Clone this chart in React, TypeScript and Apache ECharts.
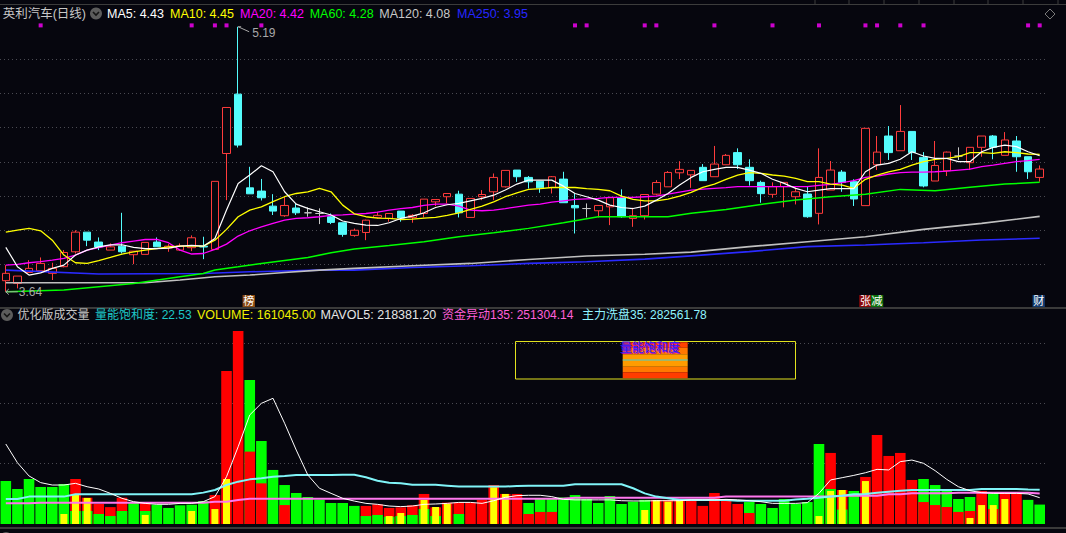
import React, { useEffect, useRef } from "react";
import * as echarts from "echarts";

const BG = "#06060e";
const RED = "#ff0000";
const GREEN = "#00ff00";
const YELLOW = "#ffff00";
const FONT = '"Liberation Sans", "Noto Sans CJK SC", sans-serif';

const days: string[] = Array.from({ length: 90 }, (_, i) => `D${i + 1}`);

// [open, close, low, high]
const ohlc: number[][] = [
  [3.705, 3.748, 3.64, 3.796], [3.689, 3.732, 3.66, 3.732], [3.753, 3.777, 3.753, 3.825], [3.763, 3.806, 3.763, 3.841], [3.748, 3.777, 3.709, 3.81],
  [3.787, 3.87, 3.783, 3.884], [3.874, 3.989, 3.864, 4.0], [3.989, 3.942, 3.907, 3.989], [3.931, 3.902, 3.884, 3.958], [3.884, 3.903, 3.884, 3.923],
  [3.907, 3.874, 3.864, 4.102], [3.857, 3.878, 3.802, 3.878], [3.859, 3.929, 3.859, 3.929], [3.931, 3.903, 3.903, 3.958], [3.896, 3.907, 3.874, 3.919],
  [3.884, 3.909, 3.88, 3.923], [3.898, 3.956, 3.878, 3.97], [3.907, 3.902, 3.831, 3.962], [3.888, 4.286, 3.884, 4.286], [4.449, 4.718, 4.176, 4.718],
  [4.796, 4.498, 4.484, 5.19], [4.248, 4.213, 4.213, 4.371], [4.229, 4.19, 4.174, 4.3], [4.141, 4.112, 4.089, 4.211], [4.085, 4.145, 4.079, 4.196],
  [4.13, 4.102, 4.089, 4.157], [4.102, 4.102, 4.079, 4.133], [4.098, 4.098, 4.036, 4.128], [4.079, 4.046, 4.036, 4.098], [4.044, 3.976, 3.962, 4.044],
  [3.97, 4.0, 3.962, 4.01], [3.987, 4.059, 3.942, 4.062], [4.075, 4.087, 4.069, 4.108], [4.069, 4.098, 4.05, 4.098], [4.112, 4.071, 4.05, 4.112],
  [4.075, 4.087, 4.044, 4.094], [4.098, 4.182, 4.075, 4.182], [4.166, 4.18, 4.141, 4.18], [4.196, 4.215, 4.157, 4.215], [4.211, 4.102, 4.075, 4.231],
  [4.075, 4.186, 4.075, 4.186], [4.196, 4.209, 4.176, 4.235], [4.225, 4.309, 4.176, 4.332], [4.254, 4.35, 4.25, 4.35], [4.352, 4.313, 4.283, 4.352],
  [4.309, 4.283, 4.244, 4.317], [4.287, 4.248, 4.219, 4.287], [4.25, 4.313, 4.215, 4.317], [4.299, 4.161, 4.161, 4.342], [4.145, 4.131, 3.981, 4.215],
  [4.127, 4.127, 4.075, 4.157], [4.114, 4.145, 4.075, 4.145], [4.137, 4.19, 4.03, 4.196], [4.19, 4.079, 4.073, 4.239], [4.069, 4.085, 4.02, 4.131],
  [4.085, 4.209, 4.063, 4.209], [4.211, 4.279, 4.205, 4.293], [4.254, 4.338, 4.254, 4.346], [4.336, 4.356, 4.299, 4.404], [4.324, 4.35, 4.248, 4.35],
  [4.368, 4.29, 4.29, 4.387], [4.313, 4.387, 4.313, 4.493], [4.383, 4.438, 4.383, 4.446], [4.454, 4.383, 4.358, 4.479], [4.368, 4.29, 4.261, 4.415],
  [4.28, 4.214, 4.161, 4.29], [4.21, 4.255, 4.19, 4.28], [4.255, 4.28, 4.134, 4.28], [4.196, 4.225, 4.151, 4.249], [4.212, 4.079, 4.073, 4.259],
  [4.099, 4.309, 4.034, 4.479], [4.235, 4.352, 4.235, 4.405], [4.34, 4.28, 4.225, 4.352], [4.284, 4.183, 4.142, 4.298], [4.144, 4.596, 4.144, 4.596],
  [4.383, 4.457, 4.352, 4.551], [4.551, 4.454, 4.411, 4.609], [4.465, 4.578, 4.465, 4.732], [4.578, 4.454, 4.411, 4.578], [4.426, 4.259, 4.251, 4.457],
  [4.288, 4.379, 4.288, 4.522], [4.348, 4.457, 4.317, 4.46], [4.434, 4.434, 4.411, 4.485], [4.395, 4.485, 4.352, 4.485], [4.485, 4.551, 4.43, 4.551],
  [4.551, 4.485, 4.415, 4.557], [4.438, 4.528, 4.438, 4.574], [4.522, 4.43, 4.342, 4.551], [4.43, 4.342, 4.3, 4.43], [4.309, 4.358, 4.284, 4.379],
];

const ma5: number[] = [
  3.9, 3.787, 3.738, 3.751, 3.777, 3.796, 3.855, 3.884, 3.903, 3.915,
  3.915, 3.9, 3.892, 3.892, 3.896, 3.907, 3.911, 3.907, 3.952, 4.118,
  4.274, 4.323, 4.377, 4.342, 4.225, 4.153, 4.128, 4.108, 4.089, 4.054,
  4.04, 4.03, 4.028, 4.044, 4.069, 4.083, 4.102, 4.133, 4.149, 4.157,
  4.172, 4.186, 4.205, 4.235, 4.27, 4.293, 4.293, 4.293, 4.258, 4.215,
  4.196, 4.176, 4.147, 4.133, 4.127, 4.141, 4.176, 4.215, 4.264, 4.309,
  4.342, 4.356, 4.368, 4.368, 4.352, 4.333, 4.298, 4.274, 4.245, 4.225,
  4.235, 4.243, 4.243, 4.243, 4.342, 4.381, 4.391, 4.415, 4.459, 4.434,
  4.42, 4.42, 4.401, 4.401, 4.459, 4.485, 4.498, 4.489, 4.459, 4.436,
];
const ma10: number[] = [
  3.989, 4.001, 4.011, 3.997, 3.942, 3.855, 3.81, 3.806, 3.822, 3.841,
  3.861, 3.874, 3.884, 3.892, 3.903, 3.907, 3.907, 3.907, 3.942, 4.005,
  4.079, 4.118, 4.137, 4.167, 4.196, 4.215, 4.225, 4.245, 4.225, 4.147,
  4.096, 4.079, 4.071, 4.069, 4.063, 4.065, 4.071, 4.075, 4.087, 4.102,
  4.122, 4.141, 4.166, 4.196, 4.219, 4.239, 4.244, 4.25, 4.25, 4.25,
  4.244, 4.239, 4.231, 4.2, 4.18, 4.172, 4.172, 4.182, 4.2, 4.221,
  4.251, 4.27, 4.298, 4.323, 4.337, 4.333, 4.323, 4.317, 4.303, 4.284,
  4.284, 4.27, 4.264, 4.245, 4.298, 4.323, 4.342, 4.356, 4.381, 4.401,
  4.415, 4.42, 4.43, 4.454, 4.454, 4.45, 4.459, 4.454, 4.446, 4.444,
];
const ma20: number[] = [
  3.796, 3.8, 3.81, 3.816, 3.825, 3.835, 3.855, 3.884, 3.898, 3.913,
  3.927, 3.937, 3.946, 3.946, 3.927, 3.884, 3.861, 3.864, 3.888, 3.919,
  3.966, 3.997, 4.02, 4.04, 4.059, 4.069, 4.073, 4.079, 4.087, 4.09,
  4.094, 4.098, 4.106, 4.118, 4.126, 4.133, 4.145, 4.153, 4.153, 4.141,
  4.118, 4.114, 4.118, 4.127, 4.137, 4.147, 4.153, 4.164, 4.172, 4.18,
  4.184, 4.186, 4.192, 4.192, 4.192, 4.196, 4.2, 4.211, 4.223, 4.235,
  4.241, 4.245, 4.249, 4.255, 4.255, 4.255, 4.255, 4.255, 4.255, 4.255,
  4.263, 4.268, 4.278, 4.29, 4.309, 4.317, 4.329, 4.337, 4.34, 4.34,
  4.342, 4.346, 4.352, 4.358, 4.372, 4.381, 4.391, 4.401, 4.407, 4.415,
];
const ma60: number[][] = [
  [0, 3.64], [5, 3.65], [11, 3.689], [15, 3.728], [17, 3.747], [18, 3.767], [20, 3.786], [22, 3.806], [26, 3.841], [28, 3.868],
  [30, 3.89], [33, 3.911], [36, 3.933], [39, 3.962], [42, 3.985], [45, 4.011], [48, 4.044], [51, 4.079], [54, 4.079], [57, 4.079],
  [59, 4.1], [62, 4.122], [65, 4.151], [68, 4.177], [71, 4.196], [74, 4.21], [77, 4.239], [80, 4.231], [83, 4.251], [86, 4.27], [89, 4.28],
];
const ma120: number[][] = [
  [0, 3.693], [12, 3.693], [15, 3.709], [18, 3.728], [21, 3.738], [24, 3.753], [27, 3.767], [30, 3.777], [35, 3.792], [40, 3.806],
  [45, 3.829], [50, 3.849], [55, 3.86], [59, 3.872], [64, 3.904], [69, 3.933], [74, 3.962], [79, 4.005], [84, 4.04], [89, 4.081],
];
const ma250: number[][] = [
  [0, 3.767], [8, 3.744], [17, 3.747], [21, 3.757], [27, 3.767], [30, 3.767], [35, 3.782], [40, 3.792], [45, 3.806], [50, 3.816],
  [55, 3.831], [59, 3.85], [64, 3.875], [69, 3.904], [74, 3.914], [79, 3.927], [84, 3.943], [89, 3.953],
];
const signalDays: number[] = [3, 16, 18, 19, 22, 49, 50, 55, 56, 61, 66, 70, 74, 75, 77, 79, 88, 89];
const signalLevel = 5.198;

// volume in 万股
const volume: number[] = [
  35.6, 29.0, 37.3, 30.7, 30.7, 33.2, 37.3, 21.8, 16.6, 14.0,
  21.8, 17.7, 17.7, 16.0, 13.3, 15.5, 16.0, 19.0, 24.0, 126.9,
  160.0, 119.4, 68.8, 44.8, 32.3, 25.7, 22.4, 20.2, 17.4, 17.4,
  15.0, 15.0, 16.3, 13.3, 13.8, 15.5, 24.9, 13.8, 17.7, 17.7,
  17.7, 20.0, 32.3, 24.9, 24.9, 17.4, 20.7, 20.7, 22.0, 24.0,
  20.7, 17.4, 23.2, 16.6, 18.5, 20.0, 20.0, 20.0, 20.0, 20.0,
  15.0, 25.7, 20.7, 16.6, 18.2, 16.6, 13.3, 20.7, 16.6, 18.2,
  66.3, 58.9, 28.2, 27.4, 39.0, 73.8, 56.4, 58.9, 36.5, 37.3,
  32.3, 27.4, 20.7, 22.4, 27.4, 24.9, 24.9, 24.9, 20.0, 16.1,
];
const volUp: number[] = [
  0, 0, 0, 0, 0, 0, 1, 1, 1, 1,
  1, 0, 1, 0, 0, 0, 0, 0, 1, 1,
  1, 0, 0, 0, 0, 0, 0, 0, 0, 0,
  0, 1, 1, 1, 1, 1, 1, 1, 1, 1,
  1, 1, 1, 1, 1, 0, 0, 0, 0, 0,
  0, 0, 0, 0, 0, 0, 1, 1, 1, 1,
  1, 1, 1, 1, 0, 0, 0, 0, 0, 0,
  0, 1, 1, 0, 1, 1, 1, 1, 1, 0,
  0, 0, 0, 0, 1, 0, 1, 1, 0, 0,
];
const volInner: number[] = [
  0, 0, 0, 0, 0, 0, 10.8, 10.8, 8.3, 6.6,
  10.8, 0, 10.8, 0, 0, 0, 0, 0, 0, 0,
  0, 60.0, 33.7, 0, 15.7, 0, 0, 0, 0, 0,
  0, 6.6, 7.5, 6.0, 6.6, 7.5, 12.4, 6.6, 0, 8.3,
  0, 0, 0, 0, 0, 8.3, 10.0, 10.0, 0, 0,
  0, 0, 0, 0, 0, 0, 0, 0, 0, 0,
  0, 0, 0, 0, 9.1, 0, 0, 0, 0, 0,
  0, 29.0, 12.0, 0, 0, 0, 0, 0, 0, 18.2,
  15.7, 14.1, 10.0, 10.8, 0, 12.4, 0, 0, 0, 0,
];
const volYellow: number[] = [
  0, 0, 0, 0, 0, 8.3, 24.9, 21.6, 0, 0,
  0, 0, 7.5, 0, 0, 0, 10.8, 0, 12.4, 37.3,
  0, 0, 0, 0, 0, 0, 0, 0, 0, 0,
  0, 0, 0, 6.6, 9.1, 0, 19.9, 14.1, 16.6, 0,
  0, 0, 30.4, 24.9, 0, 0, 0, 0, 0, 0,
  0, 0, 0, 0, 0, 11.6, 19.9, 18.5, 20.0, 0,
  0, 0, 0, 0, 0, 0, 0, 0, 0, 0,
  6.6, 27.4, 28.2, 0, 35.6, 0, 0, 0, 0, 0,
  0, 0, 0, 5.0, 15.7, 15.7, 20.7, 0, 0, 0,
];
const mavol5: number[] = [
  66.3, 50.8, 39.8, 34.3, 32.3, 32.3, 33.7, 30.9, 29.0, 25.4,
  21.3, 18.5, 17.1, 16.3, 16.3, 17.1, 17.1, 18.5, 22.7, 39.2,
  64.0, 90.4, 100.0, 104.2, 83.5, 61.3, 40.6, 29.6, 25.4, 21.3,
  19.0, 17.1, 16.3, 14.9, 14.4, 14.9, 16.3, 16.6, 17.1, 17.9,
  17.9, 17.1, 19.3, 22.1, 23.5, 23.8, 23.8, 22.7, 20.4, 20.0,
  20.0, 20.0, 20.0, 19.3, 19.1, 19.1, 19.3, 19.3, 19.3, 20.0,
  20.0, 20.0, 20.4, 20.0, 19.3, 18.5, 17.1, 17.1, 17.1, 17.7,
  25.4, 36.5, 38.4, 40.3, 42.5, 45.3, 44.8, 51.7, 53.0, 50.3,
  44.2, 37.0, 30.9, 27.6, 26.0, 25.4, 25.4, 25.4, 24.9, 21.8,
];
const washLine: number[] = [
  20.7, 20.7, 22.7, 22.7, 22.7, 22.7, 24.6, 24.6, 24.6, 24.6,
  24.6, 24.6, 24.6, 24.6, 24.6, 24.6, 24.6, 26.0, 28.2, 32.3,
  35.1, 37.0, 37.9, 39.2, 39.8, 40.6, 40.6, 40.6, 40.6, 40.9,
  40.9, 38.7, 35.9, 34.2, 33.7, 32.6, 32.6, 32.6, 31.8, 31.0,
  31.0, 31.0, 31.0, 31.0, 31.5, 31.8, 31.8, 31.8, 31.8, 32.9,
  32.9, 32.9, 32.9, 32.9, 29.6, 25.4, 22.7, 21.3, 19.9, 19.9,
  19.9, 19.9, 19.9, 19.3, 19.3, 19.3, 19.3, 19.3, 20.4, 21.0,
  21.8, 22.7, 23.5, 24.6, 24.9, 26.0, 26.8, 27.6, 28.2, 28.2,
  28.2, 28.2, 28.2, 28.2, 29.0, 29.0, 29.0, 29.0, 28.5, 28.3,
];
const fundLine: number[][] = [
  [0, 17.1], [2, 17.1], [3, 17.7], [17, 17.7], [18, 18.5], [19, 18.5], [20, 19.9], [21, 21.0], [48, 21.0], [49, 21.8],
  [61, 21.8], [62, 22.7], [71, 22.7], [72, 23.5], [75, 23.5], [76, 24.6], [77, 24.6], [78, 25.4], [81, 25.4], [82, 25.8],
  [88, 25.8], [89, 25.3],
];

const grid0 = { left: -1.5, width: 1047, top: 25.05, height: 273.6 };
const grid1 = { left: -1.5, width: 1047, top: 330, height: 194 };

function txt(text: string, x: number, y: number, fill: string, size = 12.5, align = "left") {
  return {
    type: "text",
    x,
    y,
    silent: true,
    z: 100,
    style: { text, fill, font: `${size}px ${FONT}`, verticalAlign: "middle", align },
  };
}
function icon(cx: number, cy: number) {
  return [
    { type: "circle", silent: true, z: 100, shape: { cx, cy, r: 6 }, style: { fill: "#5c5c5c" } },
    {
      type: "polyline",
      silent: true,
      z: 101,
      shape: { points: [[cx - 3, cy - 1.5], [cx, cy + 1.5], [cx + 3, cy - 1.5]] },
      style: { stroke: "#151515", lineWidth: 1.6, fill: "none" },
    },
  ];
}
function hline(y: number, color: string, w = 1) {
  return { type: "line", silent: true, z: 90, shape: { x1: 0, y1: y, x2: 1066, y2: y }, style: { stroke: color, lineWidth: w } };
}
function tag(text: string, cx: number, bg: string) {
  return [
    { type: "rect", silent: true, z: 100, shape: { x: cx - 6.2, y: 295, width: 12.4, height: 12 }, style: { fill: bg } },
    txt(text, cx, 301.2, "#ffffff", 11, "center"),
  ];
}

const splitLine = (color: string) => ({
  show: true,
  showMinLine: false,
  showMaxLine: false,
  lineStyle: { color, type: [1, 3], width: 1 },
});

export default function App() {
  const ref = useRef<HTMLDivElement>(null);
  useEffect(() => {
    document.body.style.margin = "0";
    document.body.style.background = BG;
    const chart = echarts.init(ref.current as HTMLDivElement, null, { renderer: "svg" });
    const hiddenX = (gridIndex: number) => ({
      type: "category",
      data: days,
      gridIndex,
      boundaryGap: true,
      axisLine: { show: false },
      axisTick: { show: false },
      axisLabel: { show: false },
      splitLine: { show: false },
    });
    const lineS = (data: any, color: string, width: number, xi = 0, yi = 0, z = 3) => ({
      type: "line",
      data,
      xAxisIndex: xi,
      yAxisIndex: yi,
      symbol: "none",
      showSymbol: false,
      connectNulls: true,
      silent: true,
      z,
      lineStyle: { color, width },
    });
    chart.setOption({
      backgroundColor: BG,
      animation: false,
      grid: [grid0, grid1],
      xAxis: [hiddenX(0), hiddenX(1), hiddenX(1), hiddenX(1)],
      yAxis: [
        {
          type: "value", gridIndex: 0, min: 3.6, max: 5.2, interval: 0.2,
          axisLine: { show: false }, axisTick: { show: false }, axisLabel: { show: false },
          splitLine: splitLine("#4a4a52"),
        },
        {
          type: "value", gridIndex: 1, min: 0, max: 160.8, interval: 50,
          axisLine: { show: false }, axisTick: { show: false }, axisLabel: { show: false },
          splitLine: splitLine("#4a4a52"),
        },
      ],
      series: [
        {
          type: "candlestick",
          data: ohlc,
          xAxisIndex: 0,
          yAxisIndex: 0,
          barWidth: 8,
          silent: true,
          z: 2,
          itemStyle: {
            color: BG,
            color0: "#54fcfc",
            borderColor: "#ff3c3c",
            borderColor0: "#54fcfc",
            borderColorDoji: "#c8c8c8",
            borderWidth: 1,
          },
        },
        lineS(ma250, "#2a2aff", 1.6),
        lineS(ma120, "#c0c0c0", 1.6),
        lineS(ma60, "#00ff00", 1.5),
        lineS(ma20, "#ff00ff", 1.3),
        lineS(ma10, "#ffff00", 1.3),
        lineS(ma5, "#ffffff", 1.2),
        {
          type: "scatter",
          data: signalDays.map((d) => [d, signalLevel]),
          xAxisIndex: 0,
          yAxisIndex: 0,
          symbol: "rect",
          symbolSize: [4, 4],
          clip: false,
          silent: true,
          itemStyle: { color: "#ff00ff" },
        },
        {
          type: "bar",
          xAxisIndex: 1,
          yAxisIndex: 1,
          barWidth: 10.6,
          silent: true,
          z: 2,
          data: volume.map((v, i) => ({ value: v, itemStyle: { color: volUp[i] ? RED : GREEN } })),
        },
        {
          type: "bar",
          xAxisIndex: 2,
          yAxisIndex: 1,
          barWidth: 10.6,
          silent: true,
          z: 3,
          data: volInner.map((v, i) => ({ value: v, itemStyle: { color: volUp[i] ? GREEN : RED } })),
        },
        {
          type: "bar",
          xAxisIndex: 3,
          yAxisIndex: 1,
          barWidth: 7,
          silent: true,
          z: 4,
          data: volYellow,
          itemStyle: { color: YELLOW },
        },
        lineS(fundLine, "#ff77ee", 2, 1, 1, 5),
        lineS(washLine, "#80f4f8", 2, 1, 1, 6),
        lineS(mavol5, "#ffffff", 1, 1, 1, 7),
      ],
    });

    const px = (i: number, v: number) => chart.convertToPixel({ gridIndex: 0 }, [i, v]) as number[];
    const hi = px(20, 5.19);
    const lo = px(0, 3.64);
    const xBang = px(21, 4)[0];
    const xZhang = px(74, 4)[0];
    const xJian = px(75, 4)[0];
    const xCai = px(89, 4)[0];

    const topTicks = [815, 849, 884, 919, 954, 988, 1023, 1058].map((x) => ({
      type: "line", silent: true, z: 90, shape: { x1: x, y1: 0, x2: x, y2: 4.5 }, style: { stroke: "#3c3c3c", lineWidth: 1 },
    }));

    const stripes = [
      [342.3, 5.4, "#ff4200"],
      [347.7, 6.6, "#ff7800"],
      [354.3, 5.7, "#ff9c00"],
      [360, 6.7, "#ff9c00"],
      [366.7, 5.6, "#ff7800"],
      [372.3, 5.9, "#ff3c00"],
    ].map(([y, h, c]) => ({
      type: "rect", silent: true, z: 100, shape: { x: 622.7, y: y as number, width: 65, height: h as number }, style: { fill: c as string },
    }));

    chart.setOption({
      graphic: [
        hline(4.5, "#3c3c3c"),
        ...topTicks,
        hline(308, "#3a3a3a", 2),
        hline(528, "#3a3a3a", 2),
        // top header
        txt("英利汽车(日线)", 2.7, 13.5, "#c8c8c8"),
        ...icon(96, 13.5),
        txt("MA5: 4.43", 107, 13.5, "#ffffff"),
        txt("MA10: 4.45", 170, 13.5, "#ffff00"),
        txt("MA20: 4.42", 240, 13.5, "#ff00ff"),
        txt("MA60: 4.28", 309.7, 13.5, "#00ff00"),
        txt("MA120: 4.08", 379.3, 13.5, "#c8c8c8"),
        txt("MA250: 3.95", 457, 13.5, "#2626ff"),
        {
          type: "polygon", silent: true, z: 100,
          shape: { points: [[1050, 9], [1055, 14], [1050, 19], [1045, 14]] },
          style: { stroke: "#7a7a7a", fill: "none", lineWidth: 1 },
        },
        // volume header
        ...icon(7, 315),
        txt("优化版成交量", 17.4, 315, "#c8c8c8", 12),
        txt("量能饱和度: 22.53", 95, 315, "#1ec8c8", 12),
        txt("VOLUME: 161045.00", 197, 315, "#f0f000", 12.5),
        txt("MAVOL5: 218381.20", 320.5, 315, "#e6e6e6", 12.5),
        txt("资金异动135: 251304.14", 442, 315, "#ff60d8", 12),
        txt("主力洗盘35: 282561.78", 582, 315, "#90f4ff", 12),
        // bottom header (cut by the window edge, as in the reference)
        ...icon(6, 538),
        txt("MACD(12,26,9)", 17, 538, "#c8c8c8", 12),
        txt("DIF: 0.00", 107, 538, "#ffffff", 12),
        txt("DEA: 0.05", 163, 538, "#ffff00", 12),
        txt("MACD: -0.09", 224, 538, "#ff00ff", 12),
        // high / low annotations
        {
          type: "polyline", silent: true, z: 100,
          shape: { points: [[hi[0] + 3, hi[1]], [hi[0], hi[1]], [hi[0] + 11, hi[1] + 5]] },
          style: { stroke: "#a8a8a8", lineWidth: 1, fill: "none" },
        },
        txt("5.19", hi[0] + 14, hi[1] + 6, "#a8a8a8", 12),
        {
          type: "polyline", silent: true, z: 100,
          shape: { points: [[lo[0] + 3, lo[1] - 2.8], [lo[0], lo[1]], [lo[0] + 3, lo[1] + 2.8]] },
          style: { stroke: "#a8a8a8", lineWidth: 1, fill: "none" },
        },
        {
          type: "line", silent: true, z: 100,
          shape: { x1: lo[0], y1: lo[1], x2: lo[0] + 12, y2: lo[1] },
          style: { stroke: "#a8a8a8", lineWidth: 1 },
        },
        txt("3.64", lo[0] + 13, lo[1], "#a8a8a8", 12),
        // event tags
        ...tag("榜", xBang - 1, "#8a4a12"),
        ...tag("张", xZhang, "#8c0a0a"),
        ...tag("减", xJian, "#0c6e0c"),
        ...tag("财", xCai - 1, "#123a6e"),
        // legend box
        {
          type: "rect", silent: true, z: 99,
          shape: { x: 515.5, y: 341.5, width: 280, height: 37.5 },
          style: { stroke: "#e2e21e", fill: "none", lineWidth: 1 },
        },
        ...stripes,
        { type: "line", silent: true, z: 101, shape: { x1: 622.7, y1: 360, x2: 687.7, y2: 360 }, style: { stroke: "#40d0d8", lineWidth: 1 } },
        txt("量能饱和度", 621, 348.5, "#b000d0", 12),
        txt("量能饱和度", 620, 348, "#1e1eff", 12),
      ],
    });
    return () => chart.dispose();
  }, []);
  return <div ref={ref} style={{ width: 1066, height: 533 }} />;
}
